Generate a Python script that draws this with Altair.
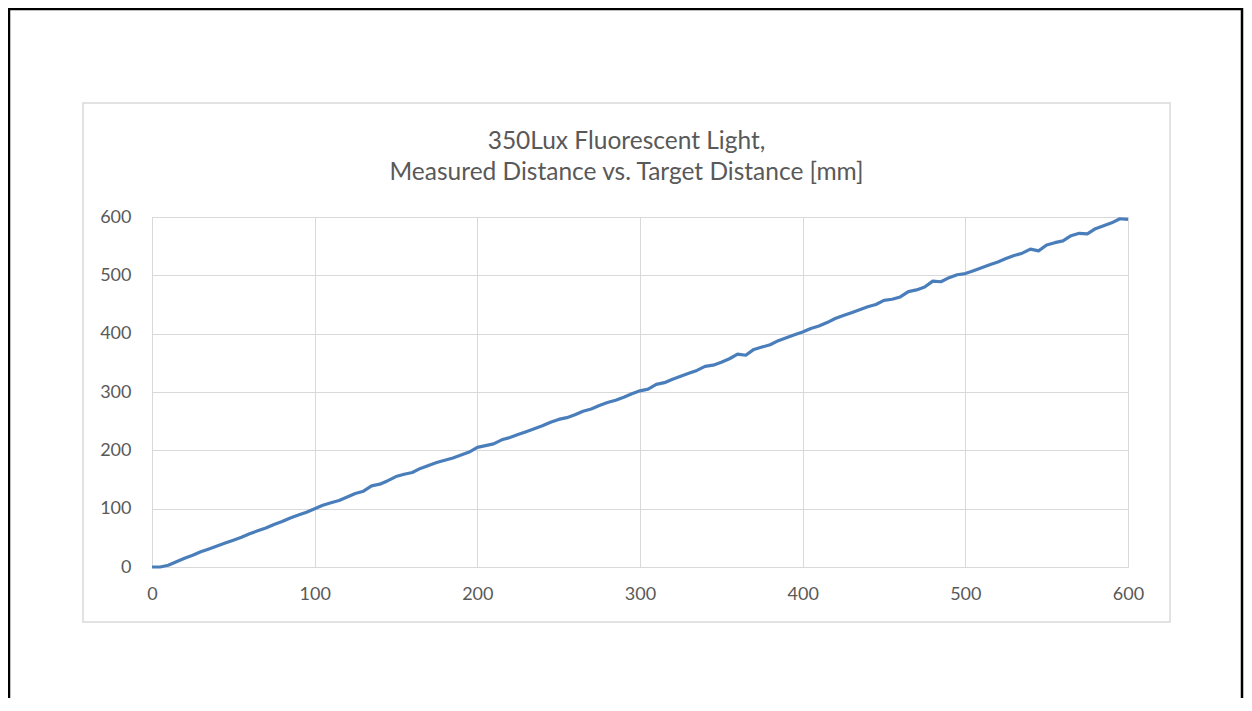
import altair as alt
import pandas as pd

TITLE_LINES = ["350Lux Fluorescent Light,", "Measured Distance vs. Target Distance [mm]"]
TICKS = [0, 100, 200, 300, 400, 500, 600]

TARGET = list(range(0, 601, 5))
MEASURED = [
    0, 0, 3, 9, 15, 20, 26, 31, 36, 41, 46, 51, 57, 62, 67, 73, 78, 84, 89, 94, 100,
    106, 110, 114, 120, 126, 130, 139, 142, 148, 155, 159, 162, 169, 174, 179, 183, 187, 192, 197, 205,
    208, 211, 218, 222, 227, 232, 237, 242, 248, 253, 256, 261, 267, 271, 277, 282, 286, 291, 297, 302,
    305, 313, 316, 322, 327, 332, 337, 344, 346, 351, 357, 365, 363, 373, 377, 381, 388, 393, 398, 403,
    409, 413, 419, 426, 431, 436, 441, 446, 450, 457, 459, 463, 472, 475, 480, 490, 489, 496, 501, 503,
    508, 513, 518, 523, 529, 534, 538, 545, 542, 552, 556, 559, 568, 572, 571, 580, 585, 590, 597, 596,
]

df = pd.DataFrame({"target": TARGET, "measured": MEASURED})
one = pd.DataFrame({"k": [0]})
title_df = pd.DataFrame({"line": TITLE_LINES, "ypos": [-68, -37]})

FONT = "Lato"
GREY_TXT = "#595959"
GRID = "#d9d9d9"

xs = alt.Scale(domain=[0, 600], nice=False, zero=False)
ys = alt.Scale(domain=[0, 600], nice=False, zero=False)

line = alt.Chart(df).mark_line(color="#4A7EBB", strokeWidth=3.2, strokeJoin="round").encode(
    x=alt.X("target:Q", scale=xs, axis=alt.Axis(values=TICKS, title=None, grid=True, gridColor=GRID,
                                                 domain=False, ticks=False, labelPadding=18, labelFlush=False,
                                                 labelFontSize=18, labelColor=GREY_TXT, labelFont=FONT)),
    y=alt.Y("measured:Q", scale=ys, axis=alt.Axis(values=TICKS, title=None, grid=True, gridColor=GRID,
                                                   domain=False, ticks=False, labelPadding=21, labelFlush=False,
                                                   labelFontSize=18, labelColor=GREY_TXT, labelFont=FONT)),
)

inner_box = alt.Chart(one).mark_rect(filled=False, stroke=GRID, strokeWidth=1.5).encode(
    x=alt.value(-69), x2=alt.value(1018), y=alt.value(-114), y2=alt.value(405)
)

outer_box = alt.Chart(one).mark_rect(filled=False, stroke="#000000", strokeWidth=2.5).encode(
    x=alt.value(-143), x2=alt.value(1090), y=alt.value(-208), y2=alt.value(700)
)

title = alt.Chart(title_df).mark_text(font=FONT, fontSize=24.5, color=GREY_TXT, align="center",
                                      baseline="alphabetic").encode(
    text="line:N", x=alt.value(474.5), y=alt.Y("ypos:Q", scale=None)
)

chart = alt.layer(outer_box, inner_box, line, title).properties(
    width=976,
    height=350,
    padding={"left": 144, "top": 209, "right": 116, "bottom": 131},
    autosize=alt.AutoSizeParams(type="none"),
).configure_view(strokeWidth=0).configure(background="white")

chart.save("out.html", embed_options={"renderer": "svg", "actions": False})
